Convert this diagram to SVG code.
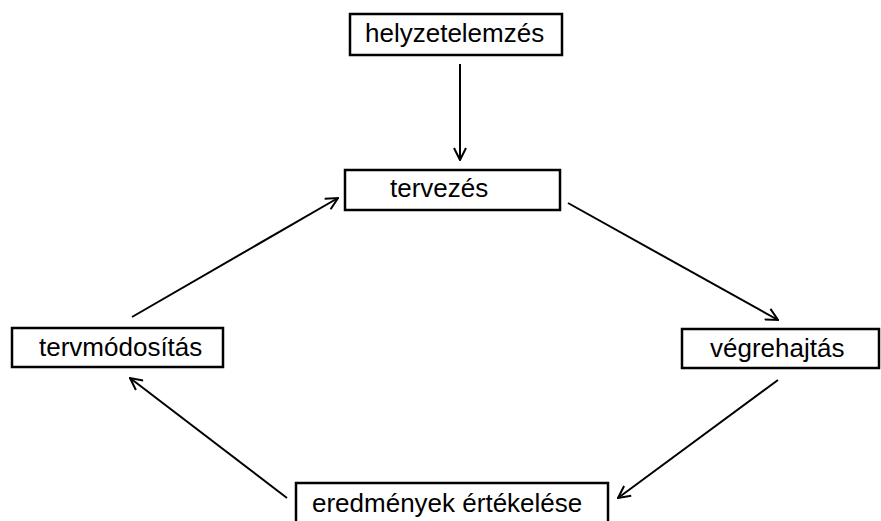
<svg xmlns="http://www.w3.org/2000/svg" width="881" height="521" viewBox="0 0 881 521">
<style>
.box{fill:#fff;stroke:#000;stroke-width:2.5}
.lbl{font-family:"Liberation Sans",Arial,sans-serif;font-size:26px;fill:#000}
.con{stroke:#000;stroke-width:2;fill:none;marker-end:url(#arr)}
</style>
<defs>
<marker id="arr" viewBox="0 0 14 14" refX="13" refY="7" markerWidth="14" markerHeight="14" markerUnits="userSpaceOnUse" orient="auto">
<path d="M1,1 L13,7 L1,13" fill="none" stroke="#000" stroke-width="2"/>
</marker>
</defs>
<rect width="881" height="521" fill="#fff"/>
<g id="connectors">
<line class="con" x1="460" y1="64" x2="460" y2="160"/>
<line class="con" x1="568" y1="203" x2="778" y2="320"/>
<line class="con" x1="778" y1="380" x2="618" y2="498"/>
<line class="con" x1="287" y1="498" x2="130" y2="378"/>
<line class="con" x1="132" y1="317" x2="338" y2="198"/>
</g>
<g id="helyzetelemzes">
<rect class="box" x="350" y="14" width="212" height="41"/>
<text class="lbl" x="365" y="42">helyzetelemzés</text>
</g>
<g id="tervezes">
<rect class="box" x="345" y="170" width="215" height="40"/>
<text class="lbl" x="390" y="197">tervezés</text>
</g>
<g id="vegrehajtas">
<rect class="box" x="682" y="329" width="197" height="39"/>
<text class="lbl" x="710" y="357">végrehajtás</text>
</g>
<g id="eredmenyek">
<rect class="box" x="296" y="483" width="312" height="50"/>
<text class="lbl" x="312" y="512">eredmények értékelése</text>
</g>
<g id="tervmodositas">
<rect class="box" x="12" y="328" width="211" height="39"/>
<text class="lbl" x="39" y="356">tervmódosítás</text>
</g>
</svg>
